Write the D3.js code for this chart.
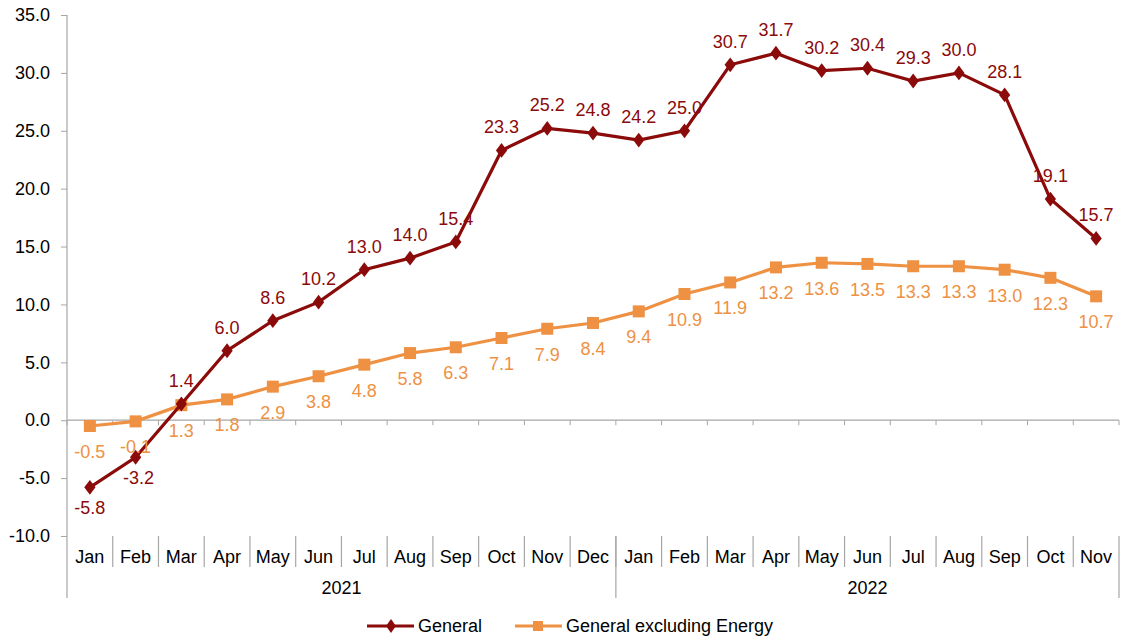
<!DOCTYPE html>
<html><head><meta charset="utf-8">
<script src="https://cdn.jsdelivr.net/npm/d3@7"></script>
<style>body{margin:0;background:#fff}svg{display:block}text{font-family:"Liberation Sans",Arial,sans-serif}</style>
</head><body>
<svg id="c" width="1121" height="638"></svg>
<script>
const months = ["Jan","Feb","Mar","Apr","May","Jun","Jul","Aug","Sep","Oct","Nov","Dec","Jan","Feb","Mar","Apr","May","Jun","Jul","Aug","Sep","Oct","Nov"];
const years = [{label:"2021", start:0, end:12},{label:"2022", start:12, end:23}];
const general = [-5.8,-3.2,1.4,6.0,8.6,10.2,13.0,14.0,15.4,23.3,25.2,24.8,24.2,25.0,30.7,31.7,30.2,30.4,29.3,30.0,28.1,19.1,15.7];
const exclEnergy = [-0.5,-0.1,1.3,1.8,2.9,3.8,4.8,5.8,6.3,7.1,7.9,8.4,9.4,10.9,11.9,13.2,13.6,13.5,13.3,13.3,13.0,12.3,10.7];
const yTicks = [-10,-5,0,5,10,15,20,25,30,35];
const seriesNames = ["General","General excluding Energy"];

(function(){
const RED = "#8B0A0A", ORANGE = "#EE9143";
const FS = 18;
const fmt = d => d.toFixed(1);
const svg = d3.select("#c");
const mL = 67, mR = 1119, mT = 15, mB = 536;
const idx = months.map((m,i)=>i);
const x = d3.scaleBand().domain(idx).range([mL,mR]).padding(0);
const y = d3.scaleLinear().domain([-10,35]).range([mB,mT]);
const cx = i => x(i) + x.bandwidth()/2;

// y axis
const yAxis = svg.append("g").attr("transform",`translate(${mL},0)`)
  .call(d3.axisLeft(y).tickValues(yTicks).tickFormat(fmt).tickSize(6).tickPadding(11));
yAxis.select(".domain").remove();
yAxis.selectAll("line").attr("stroke","#a6a6a6");
yAxis.selectAll("text").attr("font-size",FS).attr("fill","#000").attr("font-family","Liberation Sans, Arial, sans-serif");
svg.append("line").attr("x1",mL).attr("x2",mL).attr("y1",mT).attr("y2",598).attr("stroke","#a6a6a6").attr("stroke-width",1.2);

// zero line with ticks
svg.append("line").attr("x1",mL).attr("x2",mR).attr("y1",y(0)).attr("y2",y(0)).attr("stroke","#a6a6a6").attr("stroke-width",1.2);
idx.concat([23]).forEach(i=>{
  const xx = i<23 ? x(i) : mR;
  svg.append("line").attr("x1",xx).attr("x2",xx).attr("y1",y(0)).attr("y2",y(0)+5).attr("stroke","#a6a6a6");
});

// category axis
idx.forEach(i=>{
  if(i>0) svg.append("line").attr("x1",x(i)).attr("x2",x(i)).attr("y1",mB).attr("y2",567).attr("stroke","#a6a6a6").attr("stroke-width",1.2);
  svg.append("text").attr("x",cx(i)).attr("y",563).attr("text-anchor","middle").attr("font-size",FS).attr("fill","#000").text(months[i]);
});
years.forEach(g=>{
  const xe = g.end<23 ? x(g.end) : mR;
  svg.append("line").attr("x1",xe).attr("x2",xe).attr("y1",mB).attr("y2",598).attr("stroke","#a6a6a6").attr("stroke-width",1.2);
  const xs = x(g.start);
  svg.append("text").attr("x",(xs+xe)/2).attr("y",594).attr("text-anchor","middle").attr("font-size",FS).attr("fill","#000").text(g.label);
});

const line = d3.line().x((d,i)=>cx(i)).y(d=>y(d));
// orange series
svg.append("path").datum(exclEnergy).attr("d",line).attr("fill","none").attr("stroke",ORANGE).attr("stroke-width",3.2);
svg.selectAll(".sq").data(exclEnergy).enter().append("rect")
  .attr("x",(d,i)=>cx(i)-6).attr("y",d=>y(d)-6).attr("width",12).attr("height",12).attr("fill",ORANGE);
// red series
svg.append("path").datum(general).attr("d",line).attr("fill","none").attr("stroke",RED).attr("stroke-width",3.2);
const dia = d3.symbol().type(d3.symbolDiamond).size(70);
svg.selectAll(".dm").data(general).enter().append("path")
  .attr("d",dia).attr("transform",(d,i)=>`translate(${cx(i)},${y(d)}) scale(1.25,0.95)`).attr("fill",RED);

// labels
svg.selectAll(".lg").data(general).enter().append("text")
  .attr("x",(d,i)=>cx(i) + (i===1?3:0))
  .attr("y",(d,i)=> i<2 ? y(d)+27 : y(d)-17)
  .attr("text-anchor","middle").attr("font-size",FS).attr("fill",RED).text(fmt);
svg.selectAll(".le").data(exclEnergy).enter().append("text")
  .attr("x",(d,i)=>cx(i))
  .attr("y",(d,i)=> y(d)+32)
  .attr("text-anchor","middle").attr("font-size",FS).attr("fill",ORANGE).text(fmt);

// legend
const ly = 626;
svg.append("line").attr("x1",367).attr("x2",414).attr("y1",ly).attr("y2",ly).attr("stroke",RED).attr("stroke-width",3);
svg.append("path").attr("d",dia).attr("transform",`translate(391,${ly}) scale(1.1,0.9)`).attr("fill",RED);
svg.append("text").attr("x",418).attr("y",ly+6).attr("font-size",FS).attr("fill","#000").text(seriesNames[0]);
svg.append("line").attr("x1",515).attr("x2",562).attr("y1",ly).attr("y2",ly).attr("stroke",ORANGE).attr("stroke-width",3);
svg.append("rect").attr("x",533).attr("y",ly-5).attr("width",10).attr("height",10).attr("fill",ORANGE);
svg.append("text").attr("x",566).attr("y",ly+6).attr("font-size",FS).attr("fill","#000").text(seriesNames[1]);
})();
</script>
</body></html>
